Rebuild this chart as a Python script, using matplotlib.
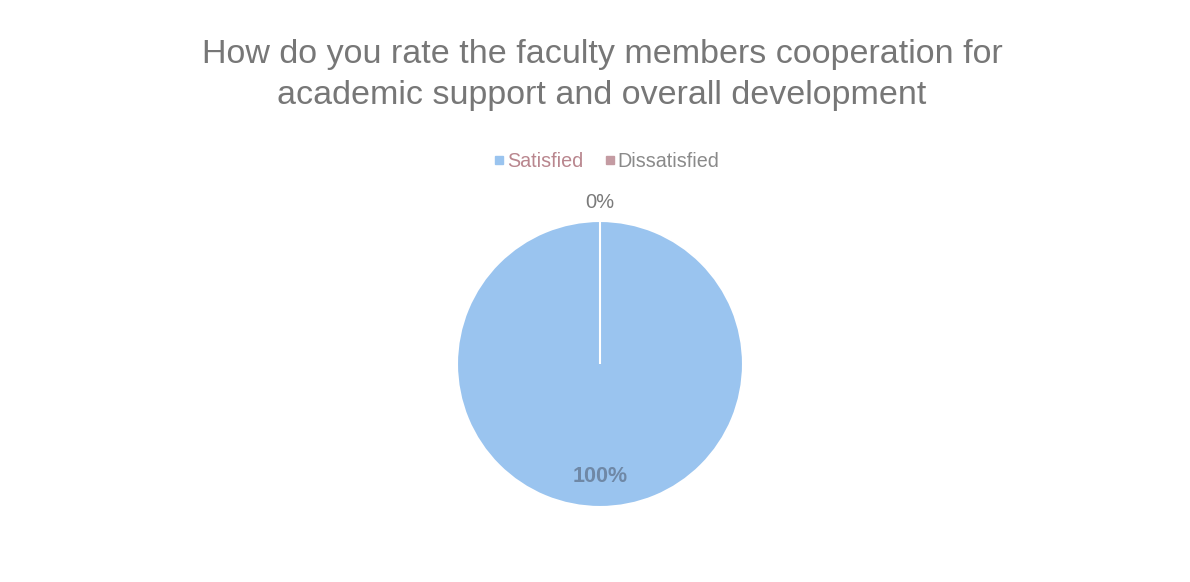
import matplotlib
matplotlib.use('Agg')
import matplotlib.pyplot as plt
import numpy as np

plt.rcParams['font.family'] = ['Liberation Sans', 'DejaVu Sans']

# data
categories = ['Satisfied', 'Dissatisfied']
values = [100, 0]
pct_labels = ['100%', '0%']
colors = ['#9ac4ef', '#c49ba2']

fig = plt.figure(figsize=(11.9, 5.82), dpi=100)

fig.text(0.506, 0.871, 'How do you rate the faculty members cooperation for\nacademic support and overall development',
         ha='center', va='center', fontsize=24.5, color='#777777', linespacing=1.45)

# pie axes (centre ~ (600, 364) px, radius ~ 143 px)
cx, cy, r = 600, 364, 143
W, H = 1190, 582
ax = fig.add_axes([(cx - r) / W, (H - cy - r) / H, 2 * r / W, 2 * r / H])
wedges, _ = ax.pie(values, colors=colors, startangle=90, counterclock=False,
                   radius=1, wedgeprops=dict(edgecolor='white', linewidth=1.5))
ax.set_xlim(-1, 1)
ax.set_ylim(-1, 1)
ax.set_aspect('equal')
ax.axis('off')

# data labels
for w, lab in zip(wedges, pct_labels):
    ang = np.deg2rad((w.theta1 + w.theta2) / 2)
    if lab == '0%':
        ax.text(1.13 * np.cos(ang), 1.13 * np.sin(ang), lab, ha='center', va='center',
                fontsize=14.5, color='#7a7a7a', clip_on=False)
    else:
        ax.text(0.79 * np.cos(ang), 0.79 * np.sin(ang), lab, ha='center', va='center',
                fontsize=15.5, color='#6f88a6', fontweight='bold')

# legend
handles = [plt.Line2D([], [], marker='s', linestyle='', markersize=5.5, color=c) for c in colors]
leg = fig.legend(handles, categories, loc='center', bbox_to_anchor=(0.509, 0.723), ncol=2,
                 frameon=False, fontsize=14.2, handletextpad=0.05, columnspacing=1.0,
                 handlelength=0.7)
for t, c in zip(leg.get_texts(), ['#b9868e', '#8a8a8a']):
    t.set_color(c)

fig.savefig('out.png', dpi=100, facecolor='white')
